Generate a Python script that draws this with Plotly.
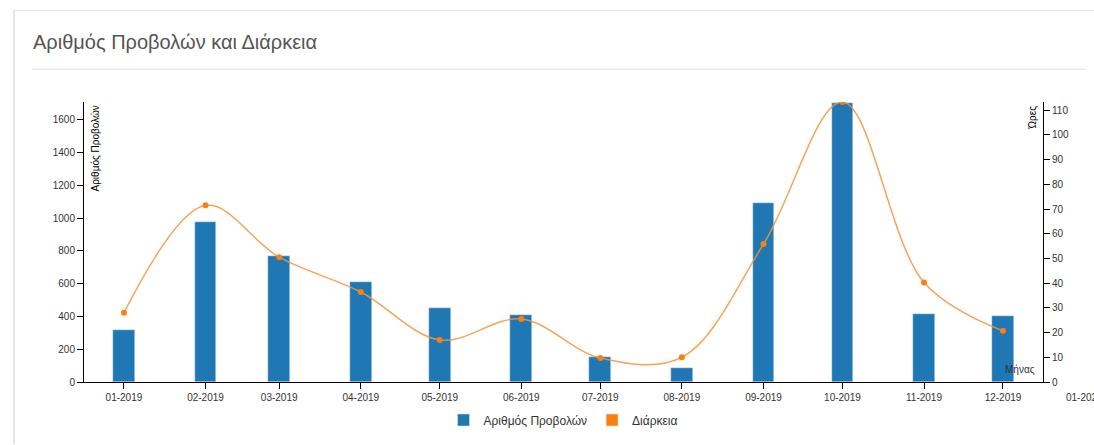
import plotly.graph_objects as go
import pandas as pd

months = ["2019-01-01", "2019-02-01", "2019-03-01", "2019-04-01", "2019-05-01", "2019-06-01",
          "2019-07-01", "2019-08-01", "2019-09-01", "2019-10-01", "2019-11-01", "2019-12-01"]
views = [318, 979, 768, 612, 450, 407, 152, 85, 1095, 1705, 415, 401]
hours = [28, 71.5, 50.5, 36.4, 17, 25.5, 9.7, 10, 55.8, 113.3, 40.3, 20.7]

title_text = "Αριθμός Προβολών και Διάρκεια"
bar_name = "Αριθμός Προβολών"
line_name = "Διάρκεια"
left_title = "Αριθμός Προβολών"
right_title = "Ώρες"
x_title = "Μήνας"

W, H = 1094, 445
ML, MR, MT, MB = 84, 51, 102, 62
PW, PH = W - ML - MR, H - MT - MB

def px(x):
    return (x - ML) / PW

def py(y):
    return (H - MB - y) / PH

x_range = ["2018-12-16 20:00", "2019-12-16 05:00"]
t0, t1 = pd.Timestamp(x_range[0]), pd.Timestamp(x_range[1])
next_tick = pd.Timestamp("2020-01-01")
next_frac = (next_tick - t0) / (t1 - t0)

BLUE = "#1f77b4"
ORANGE = "#ff7f0e"
FONT = "Liberation Sans, Arial, sans-serif"

fig = go.Figure()
fig.add_trace(go.Bar(x=months, y=views, name=bar_name, marker_color=BLUE,
                     width=8.3 * 86400000, yaxis="y"))
fig.add_trace(go.Scatter(x=months, y=hours, name=line_name, mode="lines+markers",
                         line=dict(color="rgba(240,150,60,0.85)", width=1.5, shape="spline", smoothing=1.0),
                         marker=dict(color=ORANGE, size=6), yaxis="y2", showlegend=False))
fig.add_trace(go.Bar(x=[None], y=[None], name=line_name, marker_color=ORANGE, showlegend=True))

axis_common = dict(showgrid=False, zeroline=False, showline=True, linecolor="#000", linewidth=1,
                   ticks="outside", ticklen=6, tickcolor="#000",
                   tickfont=dict(family=FONT, size=10, color="#333"))

fig.update_layout(
    width=W, height=H,
    margin=dict(l=ML, r=MR, t=MT, b=MB),
    paper_bgcolor="white", plot_bgcolor="white",
    font=dict(family=FONT, color="#333"),
    bargap=0,
    xaxis=dict(type="date", range=x_range, tick0="2019-01-01", dtick="M1", tickformat="%m-%Y",
               **axis_common),
    yaxis=dict(range=[0, 1709], tick0=0, dtick=200, **axis_common),
    yaxis2=dict(range=[0, 113.3], tick0=0, dtick=10, overlaying="y", side="right", anchor="x",
                **axis_common),
    legend=dict(orientation="h", x=0.5, xanchor="center", y=py(420), yanchor="middle",
                bgcolor="rgba(0,0,0,0)",
                font=dict(family=FONT, size=12, color="#333"), itemwidth=30),
    showlegend=True,
)

annotations = [
    dict(text=title_text, xref="paper", yref="paper", x=px(31), y=py(42), xanchor="left", yanchor="middle",
         showarrow=False, font=dict(family=FONT, size=20, color="#555")),
    dict(text=left_title, xref="paper", yref="paper", x=px(88), y=py(104), xanchor="left", yanchor="top",
         textangle=-90, showarrow=False, font=dict(family=FONT, size=10, color="#000")),
    dict(text=right_title, xref="paper", yref="paper", x=px(1040), y=py(104), xanchor="right", yanchor="top",
         textangle=-90, showarrow=False, font=dict(family=FONT, size=10, color="#000")),
    dict(text=x_title, xref="paper", yref="paper", x=px(1037), y=py(378), xanchor="right", yanchor="bottom",
         showarrow=False, font=dict(family=FONT, size=10, color="#333")),
    dict(text=next_tick.strftime("%m-%Y"), xref="paper", yref="paper", x=next_frac, y=0, yshift=-8,
         xanchor="center", yanchor="top", showarrow=False, font=dict(family=FONT, size=10, color="#333")),
]
fig.update_layout(annotations=annotations)

shapes = [
    dict(type="line", xref="paper", yref="paper", x0=px(32), x1=px(1085), y0=py(69), y1=py(69),
         line=dict(color="#dddddd", width=1)),
    dict(type="line", xref="paper", yref="paper", x0=px(14), x1=px(1094), y0=py(10), y1=py(10),
         line=dict(color="#e6e6e6", width=1)),
    dict(type="line", xref="paper", yref="paper", x0=px(14), x1=px(14), y0=py(10), y1=py(445),
         line=dict(color="#e6e6e6", width=2)),
]
fig.update_layout(shapes=shapes)

fig.write_html("out.html", config={"displayModeBar": False},
               post_script="document.body.style.margin='0';document.body.style.overflow='hidden';")
